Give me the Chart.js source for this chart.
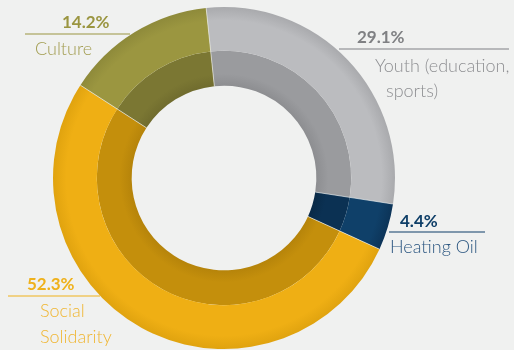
<!DOCTYPE html>
<html>
<head>
<meta charset="utf-8">
<script src="https://cdn.jsdelivr.net/npm/chart.js@4"></script>
<style>
  html, body { margin: 0; padding: 0; background: #f0f1f0; }
  #wrap { position: relative; width: 514px; height: 350px; }
</style>
</head>
<body>
<div id="wrap"><canvas id="donut"></canvas></div>
<script>
const categories = ['Youth (education, sports)', 'Heating Oil', 'Social Solidarity', 'Culture'];
const shares = [29.1, 4.4, 52.3, 14.2];
const outerColors = ['#bbbcbf', '#0f4069', '#efaf14', '#9b9640'];
const outerEdge = ['#a9aaad', '#0c3458', '#e0a30f', '#8e8a3a'];
const innerColors = ['#9a9b9e', '#0b3153', '#c48f0c', '#7b7733'];
const innerEdge = ['#8d8e91', '#092a47', '#b6840a', '#706c2e'];

// label blocks: percent, text lines, colour, positions
const callouts = [
    { pct: '29.1%', lines: ['Youth (education,', 'sports)'], color: '#7f8083', txt: '#8e8f92',
      px: 357, py: 43, lx1: 339, lx2: 509, ly: 49, tx: [375, 386], ty: [72, 97] },
    { pct: '4.4%', lines: ['Heating Oil'], color: '#0f3f68', txt: '#2b5680',
      px: 400, py: 227, lx1: 389, lx2: 485, ly: 232, tx: [390], ty: [253] },
    { pct: '52.3%', lines: ['Social', 'Solidarity'], color: '#efb11b', txt: '#f0b632',
      px: 27, py: 290, lx1: 8, lx2: 100, ly: 296, tx: [40, 40], ty: [317, 343] },
    { pct: '14.2%', lines: ['Culture'], color: '#9a9540', txt: '#a29d50',
      px: 62, py: 28, lx1: 25, lx2: 130, ly: 34, tx: [35], ty: [55] }
];

// radial shading, a touch darker at the rim of each ring
function shade(base, edge, fromIn, inStop, outStop) {
    return function (c) {
        const area = c.chart.chartArea;
        if (!area) return base[c.dataIndex];
        const cx = (area.left + area.right) / 2;
        const cy = (area.top + area.bottom) / 2;
        const r = Math.min(area.right - area.left, area.bottom - area.top) / 2;
        const g = c.chart.ctx.createRadialGradient(cx, cy, r * inStop, cx, cy, r * outStop);
        if (fromIn) {
            g.addColorStop(0, edge[c.dataIndex]);
            g.addColorStop(0.35, base[c.dataIndex]);
            g.addColorStop(1, base[c.dataIndex]);
        } else {
            g.addColorStop(0, base[c.dataIndex]);
            g.addColorStop(0.7, base[c.dataIndex]);
            g.addColorStop(1, edge[c.dataIndex]);
        }
        return g;
    };
}

const separators = {
    id: 'separators',
    afterDatasetsDraw(chart) {
        const ctx = chart.ctx;
        const outer = chart.getDatasetMeta(0).data;
        const inner = chart.getDatasetMeta(1).data;
        ctx.save();
        ctx.strokeStyle = 'rgba(240,241,240,0.8)';
        ctx.lineWidth = 0.8;
        outer.forEach((arc, i) => {
            const a = arc.startAngle;
            const r0 = inner[i].innerRadius, r1 = arc.outerRadius;
            ctx.beginPath();
            ctx.moveTo(arc.x + Math.cos(a) * r0, arc.y + Math.sin(a) * r0);
            ctx.lineTo(arc.x + Math.cos(a) * r1, arc.y + Math.sin(a) * r1);
            ctx.stroke();
        });
        ctx.restore();
    }
};

const labelsPlugin = {
    id: 'callouts',
    afterDraw(chart) {
        const ctx = chart.ctx;
        ctx.save();
        ctx.textBaseline = 'alphabetic';
        ctx.textAlign = 'left';
        callouts.forEach(c => {
            ctx.fillStyle = c.color;
            ctx.font = 'bold 17px Lato';
            ctx.fillText(c.pct, c.px, c.py);
            ctx.strokeStyle = c.color;
            ctx.lineWidth = 1.2;
            ctx.beginPath();
            ctx.moveTo(c.lx1, c.ly);
            ctx.lineTo(c.lx2, c.ly);
            ctx.stroke();
            ctx.fillStyle = c.txt;
            ctx.font = '300 18px Lato';
            c.lines.forEach((t, k) => ctx.fillText(t, c.tx[k], c.ty[k]));
        });
        ctx.restore();
    }
};

new Chart(document.getElementById('donut'), {
    type: 'doughnut',
    data: {
        labels: categories,
        datasets: [
            { data: shares, backgroundColor: shade(outerColors, outerEdge, false, 0.74, 1), borderWidth: 0, weight: 44 },
            { data: shares, backgroundColor: shade(innerColors, innerEdge, true, 0.54, 0.74), borderWidth: 0, weight: 35 }
        ]
    },
    options: {
        responsive: true,
        maintainAspectRatio: false,
        animation: false,
        rotation: -6,
        cutout: '54%',
        layout: { padding: { left: 53, right: 119, top: 7, bottom: 1 } },
        plugins: { legend: { display: false }, tooltip: { enabled: false } }
    },
    plugins: [separators, labelsPlugin]
});
</script>
</body>
</html>
